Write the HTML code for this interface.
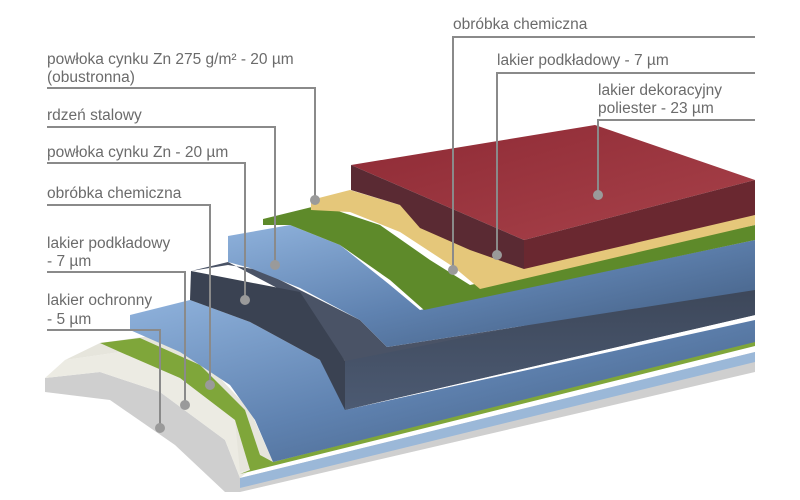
<!DOCTYPE html>
<html><head><meta charset="utf-8"><style>
html,body{margin:0;padding:0;background:#fff;width:800px;height:500px;overflow:hidden}
text{font-family:"Liberation Sans",sans-serif;font-size:15.5px;fill:#6b6b6b}
</style></head><body>
<svg width="800" height="500" viewBox="0 0 800 500" xmlns="http://www.w3.org/2000/svg">
<defs>
<linearGradient id="blue" x1="0" y1="0" x2="1" y2="1"><stop offset="0" stop-color="#8fb2dc"/><stop offset="0.5" stop-color="#5f82b0"/><stop offset="1" stop-color="#3d5678"/></linearGradient>
<linearGradient id="dark" x1="0" y1="0" x2="0" y2="1"><stop offset="0" stop-color="#3c4658"/><stop offset="1" stop-color="#4c5a72"/></linearGradient>
<linearGradient id="red" x1="0" y1="0" x2="1" y2="1"><stop offset="0" stop-color="#8e2a35"/><stop offset="1" stop-color="#a8424a"/></linearGradient>
</defs>
<polygon points="45,378 100,372 160,392 225,440 240,478 755,352 755,372 240,492 225,492 175,445 110,400 45,392" fill="#cfcfcf"/>
<polygon points="240,478 755,352 755,362 240,488" fill="#9bb8d8"/>
<polygon points="65,360 120,352 180,378 235,420 250,470 240,478 225,440 160,392 100,372 45,378" fill="#ecebe3"/>
<polygon points="100,343 150,336 205,362 250,410 273,462 240,472 235,420 180,378 120,352 65,360" fill="#e6e5dc"/>
<polygon points="100,343 140,338 200,365 245,410 260,455 273,462 755,340 755,346 240,474 250,470 235,420 180,378 120,352" fill="#7fa63a"/>
<polygon points="130,315 190,300 250,322 320,360 345,380 345,410 755,320 755,342 273,462 255,420 230,385 180,352 130,330" fill="url(#blue)"/>
<polygon points="191,271 228,262 300,300 345,361 345,410 755,315 755,290 387,347 360,320 260,270 228,265" fill="#4a5366"/>
<polygon points="191,271 300,292 345,361 345,410 320,360 250,322 190,300" fill="#3a4252"/>
<polygon points="345,361 755,280 755,315 345,410" fill="url(#dark)"/>
<polygon points="228,236 290,225 340,245 390,285 420,310 755,240 755,290 387,347 360,320 300,288 250,268 228,262" fill="url(#blue)"/>
<polygon points="263,219 320,205 380,225 430,260 470,285 755,225 755,240 424,310 390,280 340,245 290,225 263,225" fill="#5e8a2a"/>
<polygon points="311,200 350,190 400,205 450,230 500,250 755,215 755,225 480,289 455,268 400,232 350,212 311,210" fill="#e5c77a"/>
<polygon points="351,165 595,125 755,180 524,240" fill="url(#red)"/>
<polygon points="351,165 524,240 524,269 470,250 420,228 400,205 351,190" fill="#5a2a33"/>
<polygon points="524,240 755,180 755,215 524,269" fill="#6a2830"/>
<g stroke="#8a8a8a" stroke-width="2" fill="none">
<polyline points="47,88 315,88 315,200"/>
<polyline points="47,127 275,127 275,265"/>
<polyline points="47,163 245,163 245,300"/>
<polyline points="47,205 210,205 210,385"/>
<polyline points="47,272 185,272 185,405"/>
<polyline points="47,330 160,330 160,428"/>
<polyline points="755,37 453,37 453,270"/>
<polyline points="755,73 497,73 497,255"/>
<polyline points="755,120 598,120 598,195"/>
</g>
<g fill="#9a9a9a"><circle cx="315" cy="200" r="5"/><circle cx="275" cy="265" r="5"/><circle cx="245" cy="300" r="5"/><circle cx="210" cy="385" r="5"/><circle cx="185" cy="405" r="5"/><circle cx="160" cy="428" r="5"/><circle cx="453" cy="270" r="5"/><circle cx="497" cy="255" r="5"/><circle cx="598" cy="195" r="5"/></g>
<text x="47" y="64">powłoka cynku Zn 275 g/m² - 20 µm</text>
<text x="47" y="82">(obustronna)</text>
<text x="47" y="120">rdzeń stalowy</text>
<text x="47" y="157">powłoka cynku Zn - 20 µm</text>
<text x="47" y="198">obróbka chemiczna</text>
<text x="47" y="248">lakier podkładowy</text>
<text x="47" y="266">- 7 µm</text>
<text x="47" y="305">lakier ochronny</text>
<text x="47" y="324">- 5 µm</text>
<text x="453" y="29">obróbka chemiczna</text>
<text x="497" y="65">lakier podkładowy - 7 µm</text>
<text x="598" y="95">lakier dekoracyjny</text>
<text x="598" y="113">poliester - 23 µm</text>
</svg>
</body></html>
